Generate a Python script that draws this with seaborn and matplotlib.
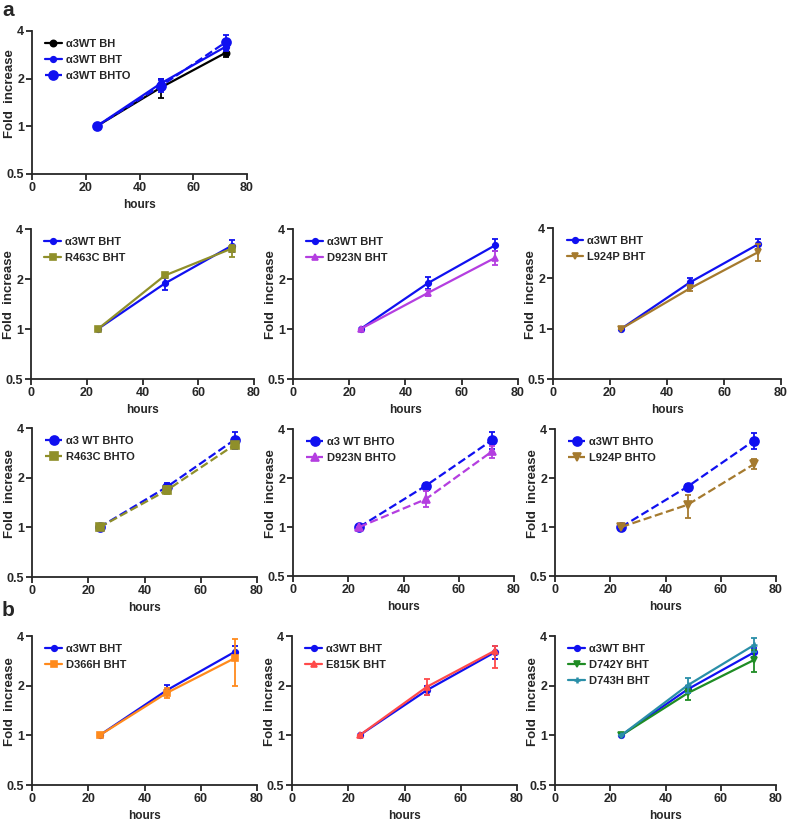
import numpy as np
import pandas as pd
import matplotlib
matplotlib.use("Agg")
import matplotlib.pyplot as plt
import seaborn as sns

sns.set_style("ticks")
plt.rcParams['font.family'] = ['Liberation Sans', 'DejaVu Sans']
plt.rcParams['font.weight'] = 'bold'
plt.rcParams['axes.labelweight'] = 'bold'

HOURS = [24, 48, 72]
X_TICKS = [0, 20, 40, 60, 80]
Y_TICKS = [0.5, 1, 2, 4]
Y_TICK_LABELS = ["0.5", "1", "2", "4"]

# ---- panel a, top ----
a0_bh = [1.0, 1.76, 2.91]; a0_bh_lo = [0, 0.24, 0.18]; a0_bh_hi = [0, 0.23, 0.19]
a0_bht = [1.0, 1.87, 3.18]; a0_bht_lo = [0, 0.10, 0.12]; a0_bht_hi = [0, 0.10, 0.12]
a0_bhto = [1.0, 1.80, 3.39]; a0_bhto_lo = [0, 0.15, 0.38]; a0_bhto_hi = [0, 0.20, 0.39]

# ---- row 2 (BHT) ----
r2a_wt = [1.0, 1.88, 3.17]; r2a_wt_lo = [0, 0.16, 0.27]; r2a_wt_hi = [0, 0.16, 0.27]
r2a_mut = [1.0, 2.10, 3.05]; r2a_mut_lo = [0, 0.05, 0.33]; r2a_mut_hi = [0, 0.05, 0.15]
r2b_wt = [1.0, 1.89, 3.20]; r2b_wt_lo = [0, 0.16, 0.27]; r2b_wt_hi = [0, 0.16, 0.27]
r2b_mut = [1.0, 1.65, 2.69]; r2b_mut_lo = [0, 0.07, 0.27]; r2b_mut_hi = [0, 0.07, 0.27]
r2c_wt = [1.0, 1.89, 3.20]; r2c_wt_lo = [0, 0.13, 0.22]; r2c_wt_hi = [0, 0.13, 0.22]
r2c_mut = [1.0, 1.74, 2.87]; r2c_mut_lo = [0, 0.05, 0.33]; r2c_mut_hi = [0, 0.05, 0.33]

# ---- row 3 (BHTO) ----
r3a_wt = [1.0, 1.76, 3.39]; r3a_wt_lo = [0, 0.10, 0.40]; r3a_wt_hi = [0, 0.10, 0.40]
r3a_mut = [1.0, 1.68, 3.16]; r3a_mut_lo = [0, 0.09, 0.15]; r3a_mut_hi = [0, 0.09, 0.15]
r3b_wt = [1.0, 1.79, 3.41]; r3b_wt_lo = [0, 0.08, 0.40]; r3b_wt_hi = [0, 0.08, 0.40]
r3b_mut = [1.0, 1.48, 2.91]; r3b_mut_lo = [0, 0.16, 0.25]; r3b_mut_hi = [0, 0.18, 0.25]
r3c_wt = [1.0, 1.77, 3.39]; r3c_wt_lo = [0, 0.08, 0.38]; r3c_wt_hi = [0, 0.08, 0.38]
r3c_mut = [1.0, 1.37, 2.43]; r3c_mut_lo = [0, 0.23, 0.17]; r3c_mut_hi = [0, 0.20, 0.20]

# ---- row 4 (panel b, BHT) ----
r4a_wt = [1.0, 1.88, 3.20]; r4a_wt_lo = [0, 0.13, 0.25]; r4a_wt_hi = [0, 0.13, 0.30]
r4a_mut = [1.0, 1.81, 2.93]; r4a_mut_lo = [0, 0.12, 0.93]; r4a_mut_hi = [0, 0.13, 0.90]
r4b_wt = [1.0, 1.88, 3.18]; r4b_wt_lo = [0, 0.12, 0.28]; r4b_wt_hi = [0, 0.12, 0.28]
r4b_mut = [1.0, 1.97, 3.25]; r4b_mut_lo = [0, 0.21, 0.68]; r4b_mut_hi = [0, 0.21, 0.21]
r4c_wt = [1.0, 1.90, 3.18]; r4c_wt_lo = [0, 0.10, 0.20]; r4c_wt_hi = [0, 0.10, 0.20]
r4c_mut1 = [1.0, 1.80, 2.86]; r4c_mut1_lo = [0, 0.16, 0.43]; r4c_mut1_hi = [0, 0.10, 0.44]
r4c_mut2 = [1.0, 2.01, 3.52]; r4c_mut2_lo = [0, 0.21, 0.33]; r4c_mut2_hi = [0, 0.21, 0.35]

BLUE = "#1010f0"
OLIVE = "#8f8f2a"
MAG = "#b43ee0"
BROWN = "#a57a2e"
ORANGE = "#ff8a1c"
RED = "#ff4a4a"
GREEN = "#1f8c24"
TEAL = "#2a8fa8"

W, H = 789, 822
fig = plt.figure(figsize=(W / 100, H / 100), dpi=100)


def rect(l, t, r, b):
    return [l / W, 1 - b / H, (r - l) / W, (b - t) / H]


def series(ax, y, lo, hi, label, color, marker, ms, ls):
    sns.lineplot(x=HOURS, y=y, ax=ax, color=color, marker=marker, markersize=ms,
                 markeredgecolor=color, markeredgewidth=1.2 if marker != '+' else 1.8,
                 linestyle=ls, linewidth=1.6, label=label, errorbar=None)
    ax.errorbar(HOURS, y, yerr=[lo, hi], fmt='none', ecolor=color, elinewidth=1.3,
                capsize=2.5, capthick=1.3)


def style(ax):
    ax.set_yscale('log', base=2)
    ax.set_xlim(0, 80)
    ax.set_ylim(0.5, 4)
    ax.set_xticks(X_TICKS)
    ax.set_yticks(Y_TICKS)
    ax.set_yticklabels(Y_TICK_LABELS)
    ax.yaxis.set_minor_locator(matplotlib.ticker.NullLocator())
    ax.tick_params(axis='both', which='major', labelsize=9, width=1.3, length=4, pad=1.5)
    for lab in ax.get_xticklabels() + ax.get_yticklabels():
        lab.set_fontweight('bold')
    for s in ['left', 'bottom']:
        ax.spines[s].set_linewidth(1.3)
    sns.despine(ax=ax)
    ax.set_xlabel("hours", fontsize=8.5, fontweight='bold', labelpad=4)
    ax.set_ylabel("Fold  increase", fontsize=9.5, fontweight='bold')
    wpx = ax.get_position().width * W
    ax.yaxis.set_label_coords(-16 / wpx, 0.56)
    ax.legend(loc='upper left', bbox_to_anchor=(0.03, 0.99), frameon=False,
              prop={'weight': 'bold', 'size': 8}, handlelength=1.5,
              handletextpad=0.35, labelspacing=0.55, borderaxespad=0.2)


# top panel
ax = fig.add_axes(rect(32, 31, 247, 174))
series(ax, a0_bh, a0_bh_lo, a0_bh_hi, "α3WT BH", "black", 'o', 4.5, '-')
series(ax, a0_bht, a0_bht_lo, a0_bht_hi, "α3WT BHT", BLUE, 'o', 4, '-')
series(ax, a0_bhto, a0_bhto_lo, a0_bhto_hi, "α3WT BHTO", BLUE, 'o', 6.5, '--')
style(ax)

# row 2
ax = fig.add_axes(rect(31, 229, 254, 379))
series(ax, r2a_wt, r2a_wt_lo, r2a_wt_hi, "α3WT BHT", BLUE, 'o', 4, '-')
series(ax, r2a_mut, r2a_mut_lo, r2a_mut_hi, "R463C BHT", OLIVE, 's', 4, '-')
style(ax)
ax = fig.add_axes(rect(293, 229, 518, 379))
series(ax, r2b_wt, r2b_wt_lo, r2b_wt_hi, "α3WT BHT", BLUE, 'o', 4, '-')
series(ax, r2b_mut, r2b_mut_lo, r2b_mut_hi, "D923N BHT", MAG, '^', 4, '-')
style(ax)
ax = fig.add_axes(rect(553, 228, 781, 379))
series(ax, r2c_wt, r2c_wt_lo, r2c_wt_hi, "α3WT BHT", BLUE, 'o', 4, '-')
series(ax, r2c_mut, r2c_mut_lo, r2c_mut_hi, "L924P BHT", BROWN, 'v', 4, '-')
style(ax)

# row 3
ax = fig.add_axes(rect(32, 428, 257, 577))
series(ax, r3a_wt, r3a_wt_lo, r3a_wt_hi, "α3 WT BHTO", BLUE, 'o', 6.5, '--')
series(ax, r3a_mut, r3a_mut_lo, r3a_mut_hi, "R463C BHTO", OLIVE, 's', 6, '--')
style(ax)
ax = fig.add_axes(rect(293, 429, 514, 576))
series(ax, r3b_wt, r3b_wt_lo, r3b_wt_hi, "α3 WT BHTO", BLUE, 'o', 6.5, '--')
series(ax, r3b_mut, r3b_mut_lo, r3b_mut_hi, "D923N BHTO", MAG, '^', 6, '--')
style(ax)
ax = fig.add_axes(rect(555, 429, 776, 576))
series(ax, r3c_wt, r3c_wt_lo, r3c_wt_hi, "α3WT BHTO", BLUE, 'o', 6.5, '--')
series(ax, r3c_mut, r3c_mut_lo, r3c_mut_hi, "L924P BHTO", BROWN, 'v', 6, '--')
style(ax)

# row 4
ax = fig.add_axes(rect(32, 636, 257, 785))
series(ax, r4a_wt, r4a_wt_lo, r4a_wt_hi, "α3WT BHT", BLUE, 'o', 4, '-')
series(ax, r4a_mut, r4a_mut_lo, r4a_mut_hi, "D366H BHT", ORANGE, 's', 4.5, '-')
style(ax)
ax = fig.add_axes(rect(292, 636, 517, 785))
series(ax, r4b_wt, r4b_wt_lo, r4b_wt_hi, "α3WT BHT", BLUE, 'o', 4, '-')
series(ax, r4b_mut, r4b_mut_lo, r4b_mut_hi, "E815K BHT", RED, '^', 4, '-')
style(ax)
ax = fig.add_axes(rect(555, 636, 776, 785))
series(ax, r4c_wt, r4c_wt_lo, r4c_wt_hi, "α3WT BHT", BLUE, 'o', 4, '-')
series(ax, r4c_mut1, r4c_mut1_lo, r4c_mut1_hi, "D742Y BHT", GREEN, 'v', 4, '-')
series(ax, r4c_mut2, r4c_mut2_lo, r4c_mut2_hi, "D743H BHT", TEAL, '+', 5, '-')
style(ax)

fig.text(2 / W, 1 - 10 / H, "a", fontsize=15, fontweight='bold', va='center', ha='left')
fig.text(2 / W, 1 - 610 / H, "b", fontsize=15, fontweight='bold', va='center', ha='left')

fig.savefig("out.png", dpi=100)
